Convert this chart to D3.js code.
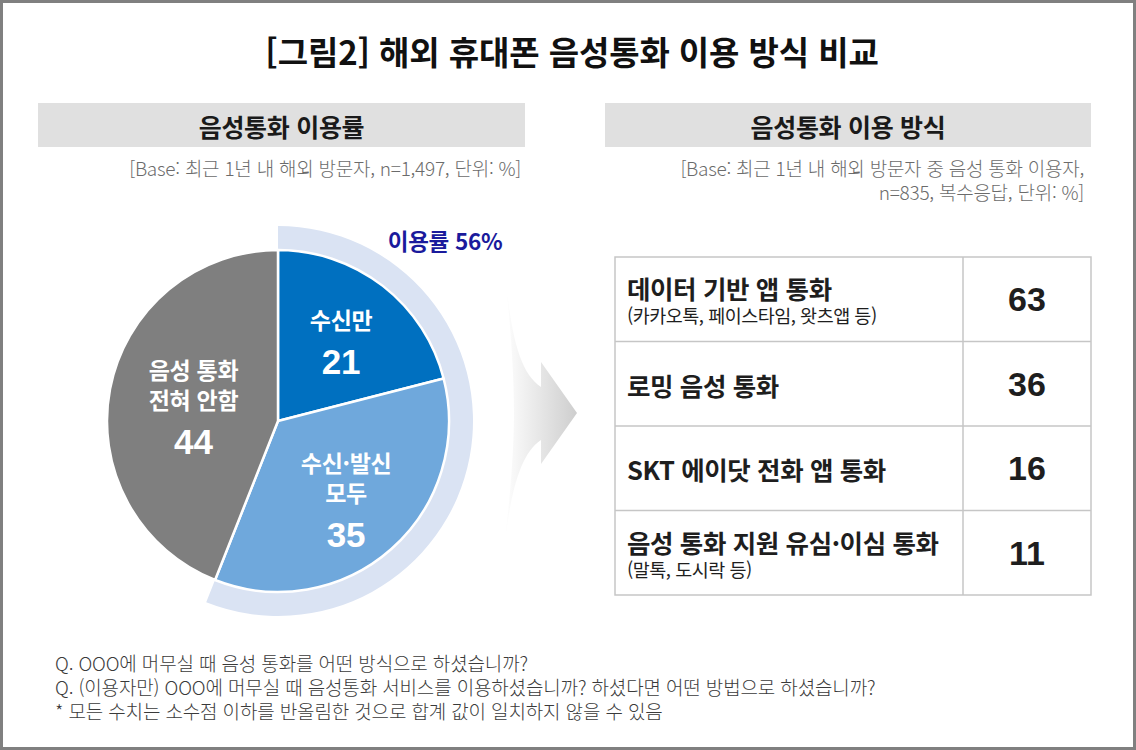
<!DOCTYPE html>
<html lang="ko">
<head>
<meta charset="UTF-8">
<title>[그림2] 해외 휴대폰 음성통화 이용 방식 비교</title>
<script src="https://d3js.org/d3.v7.min.js"></script>
<style>
  body { margin: 0; background: #fff; }
  svg { display: block; font-family: "Noto Sans CJK KR", "Noto Sans", sans-serif; }
  text, tspan { dominant-baseline: central; }
  .num { font-family: "Liberation Sans", Arial, sans-serif; font-weight: 700; }
</style>
</head>
<body>
<div id="chart"></div>
<script>
// left: 음성통화 이용률 (pie)
const pieNames = [["수신만"], ["수신·발신", "모두"], ["음성 통화", "전혀 안함"]];
const pieValues = [21, 35, 44];
const pieUsed = [true, true, false];
const pieColors = ["#0070c0", "#6fa8dc", "#7f7f7f"];

// right: 음성통화 이용 방식 (table)
const methodNames = ["데이터 기반 앱 통화", "로밍 음성 통화", "SKT 에이닷 전화 앱 통화", "음성 통화 지원 유심·이심 통화"];
const methodNotes = ["(카카오톡, 페이스타임, 왓츠앱 등)", "", "", "(말톡, 도시락 등)"];
const methodValues = [63, 36, 16, 11];

const notes = [
  "Q. OOO에 머무실 때 음성 통화를 어떤 방식으로 하셨습니까?",
  "Q. (이용자만) OOO에 머무실 때 음성통화 서비스를 이용하셨습니까? 하셨다면 어떤 방법으로 하셨습니까?",
  "* 모든 수치는 소수점 이하를 반올림한 것으로 합계 값이 일치하지 않을 수 있음"
];

const W = 1136, H = 750;
const svg = d3.select("#chart").append("svg").attr("width", W).attr("height", H);

svg.append("rect").attr("x", 1.5).attr("y", 1.5).attr("width", W - 3).attr("height", H - 3)
  .attr("fill", "#fff").attr("stroke", "#808080").attr("stroke-width", 3);

svg.append("text").attr("x", 572).attr("y", 51).attr("text-anchor", "middle")
  .attr("font-size", 33).attr("font-weight", 700)
  .attr("letter-spacing", -0.1).attr("fill", "#111").text("[그림2] 해외 휴대폰 음성통화 이용 방식 비교");

// section headers
const headers = [
  {x: 38, w: 487, title: "음성통화 이용률", sub: ["[Base: 최근 1년 내 해외 방문자, n=1,497, 단위: %]"], subX: 521},
  {x: 605, w: 486, title: "음성통화 이용 방식", sub: ["[Base: 최근 1년 내 해외 방문자 중 음성 통화 이용자,", "n=835, 복수응답, 단위: %]"], subX: 1084}
];
headers.forEach(h => {
  svg.append("rect").attr("x", h.x).attr("y", 103).attr("width", h.w).attr("height", 44).attr("fill", "#e0e0e0");
  svg.append("text").attr("x", h.x + h.w / 2).attr("y", 126).attr("text-anchor", "middle")
    .attr("font-size", 25).attr("font-weight", 700)
    .attr("letter-spacing", -0.3).attr("fill", "#1a1a1a").text(h.title);
  const st = svg.append("text").attr("text-anchor", "end").attr("font-size", 19).attr("font-weight", 300)
    .attr("letter-spacing", -0.25).attr("fill", "#6b6b6b");
  h.sub.forEach((s, i) => {
    st.append("tspan").attr("x", h.subX).attr("y", 167 + i * 24).text(s);
  });
});

// pie
const cx = 278, cy = 421, R = 171;
const g = svg.append("g").attr("transform", `translate(${cx},${cy})`);
const pie = d3.pie().sort(null).value(d => d)(pieValues);

const usedTotal = d3.sum(pieValues.filter((v, i) => pieUsed[i]));
const ringEnd = usedTotal / d3.sum(pieValues) * 2 * Math.PI;
g.append("path")
  .attr("d", d3.arc().innerRadius(R - 4).outerRadius(R + 24).startAngle(0).endAngle(ringEnd)())
  .attr("fill", "#dae3f3");

const arc = d3.arc().innerRadius(0).outerRadius(R);
g.selectAll("path.slice").data(pie).join("path").attr("class", "slice")
  .attr("d", arc).attr("fill", (d, i) => pieColors[i])
  .attr("stroke", "#fff").attr("stroke-width", 2.5).attr("stroke-linejoin", "round");

pie.forEach((d, i) => {
  const r = pieUsed[i] ? 103 : 86;
  const [lx, ly] = d3.arc().innerRadius(r).outerRadius(r).centroid(d);
  const lines = pieNames[i];
  const gap = 42, step = 30;
  const blockH = (lines.length - 1) * step + gap;
  const top = ly - blockH / 2;
  const t = g.append("text").attr("text-anchor", "middle").attr("fill", "#fff");
  lines.forEach((s, j) => {
    t.append("tspan").attr("x", lx).attr("y", top + j * step)
      .attr("font-size", 23).attr("font-weight", 700).attr("letter-spacing", -0.3).text(s);
  });
  t.append("tspan").attr("class", "num").attr("x", lx).attr("y", top + (lines.length - 1) * step + gap)
    .attr("font-size", 35).text(d.data);
});

g.append("text").attr("x", 167).attr("y", -181).attr("text-anchor", "middle")
  .attr("font-size", 22.5).attr("font-weight", 700)
  .attr("letter-spacing", -0.3).attr("fill", "#1a1a9c").text(`이용률 ${usedTotal}%`);

// arrow
const defs = svg.append("defs");
const grad = defs.append("linearGradient").attr("id", "arrowGrad")
  .attr("gradientUnits", "userSpaceOnUse").attr("x1", 503).attr("y1", 0).attr("x2", 578).attr("y2", 0);
grad.append("stop").attr("offset", 0).attr("stop-color", "#fff");
grad.append("stop").attr("offset", 1).attr("stop-color", "#cdcdcd");
svg.append("path")
  .attr("d", "M504,262 C510,330 518,372 541,387 L541,362 L577,413 L541,464 L541,440 C518,455 510,500 504,548 C510,500 514,450 514,413 C514,370 510,320 504,262 Z")
  .attr("fill", "url(#arrowGrad)");

// table
const tx0 = 615, tx1 = 963, tx2 = 1091;
const y = d3.scaleBand().domain(methodNames).range([257, 595]);
const bw = y.bandwidth();
const tbl = svg.append("g");
tbl.append("rect").attr("x", tx0).attr("y", y.range()[0]).attr("width", tx2 - tx0)
  .attr("height", y.range()[1] - y.range()[0]).attr("fill", "none").attr("stroke", "#c6c6c6").attr("stroke-width", 1.5);
tbl.append("line").attr("x1", tx1).attr("x2", tx1).attr("y1", y.range()[0]).attr("y2", y.range()[1])
  .attr("stroke", "#c6c6c6").attr("stroke-width", 1.5);
tbl.selectAll("line.row").data(methodNames.slice(1)).join("line").attr("class", "row")
  .attr("x1", tx0).attr("x2", tx2).attr("y1", d => y(d)).attr("y2", d => y(d))
  .attr("stroke", "#c6c6c6").attr("stroke-width", 1.5);

methodNames.forEach((name, i) => {
  const top = y(name);
  const note = methodNotes[i];
  const t = tbl.append("text").attr("fill", "#1e1e1e");
  t.append("tspan").attr("x", tx0 + 12).attr("y", note ? top + bw * 0.36 : top + bw / 2)
    .attr("font-size", 25.5).attr("font-weight", 700).attr("letter-spacing", -0.4).text(name);
  if (note) {
    t.append("tspan").attr("x", tx0 + 12).attr("y", top + bw * 0.69)
      .attr("font-size", 18.5).attr("font-weight", 400).attr("letter-spacing", -0.5).text(note);
  }
  tbl.append("text").attr("class", "num").attr("x", (tx1 + tx2) / 2).attr("y", top + bw / 2)
    .attr("text-anchor", "middle").attr("font-size", 34)
    .attr("fill", "#1e1e1e").text(methodValues[i]);
});

// footnotes
const nt = svg.append("text").attr("font-size", 19).attr("font-weight", 300)
  .attr("letter-spacing", -0.15).attr("fill", "#3a3a3a");
nt.selectAll("tspan").data(notes).join("tspan")
  .attr("x", 55).attr("y", (d, i) => 662 + i * 24).text(d => d);
</script>
</body>
</html>
